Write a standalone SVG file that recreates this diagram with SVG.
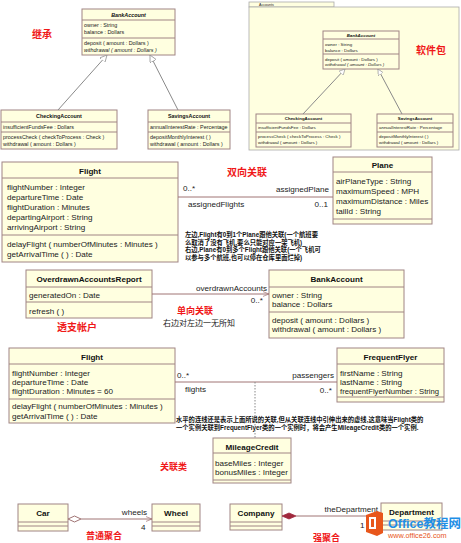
<svg xmlns="http://www.w3.org/2000/svg" width="461" height="543" viewBox="0 0 461 543">
<style>
.box{fill:#ffffe0;stroke:#a08484;stroke-width:1}
.div{stroke:#a08484;stroke-width:1}
.t{font-family:"Liberation Sans",Arial,sans-serif;fill:#222}
.tb{font-family:"Liberation Sans",Arial,sans-serif;fill:#111;font-weight:bold;text-anchor:middle}
.m{font-size:8.1px}
.s{font-size:5.4px}
.xs{font-size:4.4px}
.red{font-family:"Noto Sans CJK SC",sans-serif;fill:#f01818;font-weight:bold}
.note{font-family:"Liberation Sans","Noto Sans CJK SC",sans-serif;fill:#111;font-weight:bold;font-size:6.3px}
.gen{stroke:#8a8a8a;stroke-width:1;fill:none}
.as{stroke:#a07474;stroke-width:1;fill:none}
.end{text-anchor:end}
</style>
<defs>
<marker id="tri" viewBox="0 0 10 10" refX="10" refY="5" markerWidth="7" markerHeight="7" orient="auto" markerUnits="userSpaceOnUse"><path d="M0,0 L10,5 L0,10 Z" fill="#fff" stroke="#8a8a8a" stroke-width="1"/></marker>
<marker id="triS" viewBox="0 0 10 10" refX="10" refY="5" markerWidth="6" markerHeight="6" orient="auto" markerUnits="userSpaceOnUse"><path d="M0,0 L10,5 L0,10 Z" fill="#fff" stroke="#8a8a8a" stroke-width="1"/></marker>
<marker id="open" viewBox="0 0 10 10" refX="10" refY="5" markerWidth="6" markerHeight="6" orient="auto" markerUnits="userSpaceOnUse"><path d="M0,1 L10,5 L0,9" fill="none" stroke="#a07474" stroke-width="1.2"/></marker>
</defs>

<!-- Inheritance -->
<text class="red" x="32" y="38" font-size="10">继承</text>
<g id="bank1">
<rect class="box" x="82" y="9" width="93" height="46"/>
<line class="div" x1="82" y1="20" x2="175" y2="20"/><line class="div" x1="82" y1="38" x2="175" y2="38"/>
<text class="tb s" x="128.5" y="17" font-style="italic">BankAccount</text>
<text class="t s" x="84" y="27">owner : String</text>
<text class="t s" x="84" y="34">balance : Dollars</text>
<text class="t s" x="84" y="45">deposit ( amount : Dollars )</text>
<text class="t s" x="84" y="52" font-style="italic">withdrawal ( amount : Dollars )</text>
</g>
<g id="check1">
<rect class="box" x="1" y="110" width="116" height="39"/>
<line class="div" x1="1" y1="122" x2="117" y2="122"/><line class="div" x1="1" y1="132" x2="117" y2="132"/>
<text class="tb s" x="59" y="118">CheckingAccount</text>
<text class="t s" x="3" y="129">insufficientFundsFee : Dollars</text>
<text class="t s" x="3" y="139">processCheck ( checkToProcess : Check )</text>
<text class="t s" x="3" y="146">withdrawal ( amount : Dollars )</text>
</g>
<g id="save1">
<rect class="box" x="148" y="110" width="82" height="39"/>
<line class="div" x1="148" y1="122" x2="230" y2="122"/><line class="div" x1="148" y1="132" x2="230" y2="132"/>
<text class="tb s" x="189" y="118">SavingsAccount</text>
<text class="t s" x="150" y="129">annualInterestRate : Percentage</text>
<text class="t s" x="150" y="139">depositMonthlyInterest ( )</text>
<text class="t s" x="150" y="146">withdrawal ( amount : Dollars )</text>
</g>

<!-- Package -->
<g id="pkg">
<rect x="249" y="2" width="85" height="5" fill="#ffffe0" stroke="#aaa" stroke-width="0.8"/>
<rect x="249" y="7" width="210" height="143" fill="#ffffe0" stroke="#aaa" stroke-width="0.8"/>
<text class="t" x="259" y="6" font-size="3.6">Accounts</text>
</g>
<text class="red" x="416" y="54" font-size="10">软件包</text>
<g id="bank2">
<rect class="box" x="323" y="31" width="76" height="38"/>
<line class="div" x1="323" y1="39" x2="399" y2="39"/><line class="div" x1="323" y1="54" x2="399" y2="54"/>
<text class="tb xs" x="361" y="37" font-style="italic">BankAccount</text>
<text class="t xs" x="325" y="46">owner : String</text>
<text class="t xs" x="325" y="52">balance : Dollars</text>
<text class="t xs" x="325" y="60.5">deposit ( amount : Dollars )</text>
<text class="t xs" x="325" y="66" font-style="italic">withdrawal ( amount : Dollars )</text>
</g>
<g id="check2">
<rect class="box" x="256" y="114" width="95" height="33"/>
<line class="div" x1="256" y1="123" x2="351" y2="123"/><line class="div" x1="256" y1="132" x2="351" y2="132"/>
<text class="tb xs" x="303.5" y="120">CheckingAccount</text>
<text class="t xs" x="258" y="128.5">insufficientFundsFee : Dollars</text>
<text class="t xs" x="258" y="137.5">processCheck ( checkToProcess : Check )</text>
<text class="t xs" x="258" y="143.5">withdrawal ( amount : Dollars )</text>
</g>
<g id="save2">
<rect class="box" x="377" y="114" width="76" height="33"/>
<line class="div" x1="377" y1="123" x2="453" y2="123"/><line class="div" x1="377" y1="132" x2="453" y2="132"/>
<text class="tb xs" x="415" y="120">SavingsAccount</text>
<text class="t xs" x="379" y="128.5">annualInterestRate : Percentage</text>
<text class="t xs" x="379" y="137.5">depositMonthlyInterest ( )</text>
<text class="t xs" x="379" y="143.5">withdrawal ( amount : Dollars )</text>
</g>

<!-- Flight / Plane -->
<g id="flight1">
<rect class="box" x="2" y="162" width="176" height="100"/>
<line class="div" x1="2" y1="178" x2="178" y2="178"/><line class="div" x1="2" y1="235" x2="178" y2="235"/>
<text class="tb m" x="90" y="174">Flight</text>
<text class="t m" x="7" y="190">flightNumber : Integer</text>
<text class="t m" x="7" y="200">departureTime : Date</text>
<text class="t m" x="7" y="210">flightDuration : Minutes</text>
<text class="t m" x="7" y="220">departingAirport : String</text>
<text class="t m" x="7" y="230">arrivingAirport : String</text>
<text class="t m" x="7" y="247">delayFlight ( numberOfMinutes : Minutes )</text>
<text class="t m" x="7" y="257">getArrivalTime ( ) : Date</text>
</g>
<g id="plane">
<rect class="box" x="333" y="157" width="99" height="67"/>
<line class="div" x1="333" y1="172" x2="432" y2="172"/><line class="div" x1="333" y1="219" x2="432" y2="219"/>
<text class="tb m" x="382.5" y="168">Plane</text>
<text class="t m" x="336" y="184">airPlaneType : String</text>
<text class="t m" x="336" y="194">maximumSpeed : MPH</text>
<text class="t m" x="336" y="204">maximumDistance : Miles</text>
<text class="t m" x="336" y="214">tailId : String</text>
</g>
<text class="red" x="227" y="176" font-size="10">双向关联</text>
<text class="note" x="185" y="237">左边,Flight有0到1个Plane跟他关联(一个航班要</text>
<text class="note" x="185" y="244.5">么取消了没有飞机,要么只能对应一架飞机)</text>
<text class="note" x="185" y="252">右边,Plane有0到多个Flight跟他关联(一个飞机可</text>
<text class="note" x="185" y="259.5">以参与多个航班,也可以停在仓库里面烂掉)</text>

<!-- Overdrawn -->
<g id="report">
<rect class="box" x="26" y="270" width="126" height="48"/>
<line class="div" x1="26" y1="287" x2="152" y2="287"/><line class="div" x1="26" y1="302" x2="152" y2="302"/>
<text class="tb m" x="89" y="282">OverdrawnAccountsReport</text>
<text class="t m" x="29" y="298">generatedOn : Date</text>
<text class="t m" x="29" y="314">refresh ( )</text>
</g>
<text class="red" x="57" y="331" font-size="10">透支帐户</text>
<text class="red" x="177" y="314" font-size="9">单向关联</text>
<text x="163" y="326" font-family="Noto Sans CJK SC,sans-serif" font-size="8" fill="#222">右边对左边一无所知</text>
<g id="bank3">
<rect class="box" x="269" y="270" width="135" height="68"/>
<line class="div" x1="269" y1="287" x2="404" y2="287"/><line class="div" x1="269" y1="312" x2="404" y2="312"/>
<text class="tb m" x="336.5" y="282">BankAccount</text>
<text class="t m" x="272" y="298">owner : String</text>
<text class="t m" x="272" y="307">balance : Dollars</text>
<text class="t m" x="272" y="323">deposit ( amount : Dollars )</text>
<text class="t m" x="272" y="332">withdrawal ( amount : Dollars )</text>
</g>

<!-- Flight / FrequentFlyer -->
<g id="flight2">
<rect class="box" x="9" y="348" width="166" height="75"/>
<line class="div" x1="9" y1="364" x2="175" y2="364"/><line class="div" x1="9" y1="399" x2="175" y2="399"/>
<text class="tb m" x="92" y="360">Flight</text>
<text class="t m" x="12" y="376">flightNumber : Integer</text>
<text class="t m" x="12" y="385">departureTime : Date</text>
<text class="t m" x="12" y="394">flightDuration : Minutes = 60</text>
<text class="t m" x="12" y="409">delayFlight ( numberOfMinutes : Minutes )</text>
<text class="t m" x="12" y="419">getArrivalTime ( ) : Date</text>
</g>
<g id="flyer">
<rect class="box" x="337" y="348" width="107" height="54"/>
<line class="div" x1="337" y1="364" x2="444" y2="364"/><line class="div" x1="337" y1="397" x2="444" y2="397"/>
<text class="tb m" x="390.5" y="360">FrequentFlyer</text>
<text class="t m" x="340" y="376">firstName : String</text>
<text class="t m" x="340" y="385">lastName : String</text>
<text class="t" x="340" y="394" font-size="7.7">frequentFlyerNumber : String</text>
</g>
<text class="note" x="176" y="422">水平的连线还是表示上面所说的关联,但从关联连线中引伸出来的虚线,这意味当Flight类的</text>
<text class="note" x="176" y="430">一个实例关联到FrequentFlyer类的一个实例时，将会产生MileageCredit类的一个实例.</text>
<g id="mileage">
<rect class="box" x="213" y="438" width="78" height="45"/>
<line class="div" x1="213" y1="453" x2="291" y2="453"/><line class="div" x1="213" y1="480" x2="291" y2="480"/>
<text class="tb m" x="252" y="450">MileageCredit</text>
<text class="t m" x="215" y="466">baseMiles : Integer</text>
<text class="t m" x="215" y="475">bonusMiles : Integer</text>
</g>
<text class="red" x="160" y="470" font-size="9">关联类</text>

<!-- Aggregation -->
<g id="car">
<rect class="box" x="18" y="504" width="50" height="27"/>
<line class="div" x1="18" y1="522" x2="68" y2="522"/><line class="div" x1="18" y1="526" x2="68" y2="526"/>
<text class="tb m" x="43" y="516">Car</text>
</g>
<g id="wheel">
<rect class="box" x="152" y="504" width="48" height="27"/>
<line class="div" x1="152" y1="522" x2="200" y2="522"/><line class="div" x1="152" y1="526" x2="200" y2="526"/>
<text class="tb m" x="176" y="516">Wheel</text>
</g>
<text class="red" x="86" y="539" font-size="9">普通聚合</text>
<g id="company">
<rect class="box" x="230" y="504" width="52" height="26"/>
<line class="div" x1="230" y1="522" x2="282" y2="522"/><line class="div" x1="230" y1="526" x2="282" y2="526"/>
<text class="tb m" x="256" y="516">Company</text>
</g>
<g id="dept">
<rect class="box" x="381" y="503" width="61" height="27"/>
<line class="div" x1="381" y1="521" x2="442" y2="521"/><line class="div" x1="381" y1="525" x2="442" y2="525"/>
<text class="tb m" x="411.5" y="515">Department</text>
</g>
<text class="red" x="313" y="541" font-size="9">强聚合</text>

<!-- Connectors -->
<g id="connectors">
<line class="gen" x1="58" y1="110" x2="107" y2="55" marker-end="url(#tri)"/>
<line class="gen" x1="178" y1="110" x2="150" y2="55" marker-end="url(#tri)"/>
<line class="gen" x1="303" y1="114" x2="345" y2="69" marker-end="url(#triS)"/>
<line class="gen" x1="402" y1="114" x2="378" y2="69" marker-end="url(#triS)"/>
<line class="as" x1="178" y1="197" x2="333" y2="197"/>
<text class="t m" x="183" y="191">0..*</text>
<text class="t m" x="188" y="207">assignedFlights</text>
<text class="t m end" x="329" y="192">assignedPlane</text>
<text class="t m end" x="328" y="207">0..1</text>
<line class="as" x1="152" y1="294" x2="269" y2="294" marker-end="url(#open)"/>
<text class="t m end" x="267" y="291">overdrawnAccounts</text>
<text class="t m end" x="263" y="303">0..*</text>
<line class="as" x1="175" y1="382" x2="337" y2="382"/>
<text class="t m" x="177" y="378">0..*</text>
<text class="t m" x="185" y="392">flights</text>
<text class="t m end" x="334" y="378">passengers</text>
<text class="t m end" x="332" y="393">0..*</text>
<line x1="255" y1="382" x2="255" y2="438" stroke="#888" stroke-width="1" stroke-dasharray="1.5,1.5"/>
<line class="as" x1="81" y1="519" x2="152" y2="519" marker-end="url(#open)"/>
<path d="M68,519 L74.5,516 L81,519 L74.5,522 Z" fill="#fff" stroke="#a07474" stroke-width="1"/>
<text class="t m end" x="147" y="515">wheels</text>
<text class="t m" x="141" y="530">4</text>
<line class="as" x1="296" y1="516" x2="381" y2="516"/>
<path d="M282,516 L289,513 L296,516 L289,519 Z" fill="#a0283c" stroke="#a0283c" stroke-width="0.8"/>
<text class="t m end" x="378" y="512">theDepartment</text>
<text class="t m" x="360" y="528">1</text>
</g>

<!-- watermark -->
<g id="watermark">
<path d="M366,515 L377,511 L383,513 L383,533 L377,536 L366,532 Z" fill="#e8561b"/>
<rect x="369" y="517" width="7" height="12" fill="#fff"/>
<rect x="371" y="519" width="3" height="8" fill="#e8561b"/>
<text x="388" y="528" font-family="Liberation Sans,'Noto Sans CJK SC',sans-serif" font-size="12.5" font-weight="bold" fill="#1f8fe6">Office教程网</text>
<text x="388" y="538" font-family="Liberation Sans,sans-serif" font-size="7.3" fill="#e8561b">www.office26.com</text>
</g>
</svg>
